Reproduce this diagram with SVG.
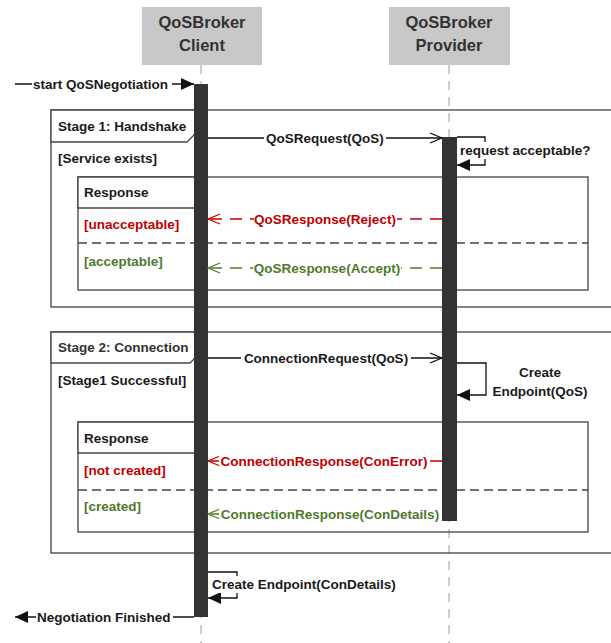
<svg xmlns="http://www.w3.org/2000/svg" width="611" height="643" viewBox="0 0 611 643">
<defs>
<style>
text{font-family:"Liberation Sans",Arial,sans-serif;font-weight:bold;font-size:13.5px;fill:#1a1a1a}
.hdr{font-size:16.5px;fill:#333;text-anchor:middle}
.red{fill:#c00000}
.grn{fill:#4f7a2e}
.mid{text-anchor:middle}
.life{stroke:#bdbdbd;stroke-width:1.5;stroke-dasharray:9,7;fill:none}
.frame{fill:none;stroke:#444;stroke-width:1.3}
.lbl{fill:#fff;stroke:#444;stroke-width:1.3}
.sep{stroke:#444;stroke-width:1.3;stroke-dasharray:9,5;fill:none}
.bar{fill:#333}
.msg{stroke:#111;stroke-width:1.3;fill:none}
.rmsg{stroke:#c00000;stroke-width:1.3;fill:none}
.gmsg{stroke:#4f7a2e;stroke-width:1.3;fill:none}
.bg{fill:#fff}
</style>
<marker id="open" markerWidth="14" markerHeight="12" refX="13" refY="6" orient="auto" markerUnits="userSpaceOnUse"><path d="M1,1 L13,6 L1,11" fill="none" stroke="#111" stroke-width="1.3"/></marker>
<marker id="openR" markerWidth="14" markerHeight="12" refX="13" refY="6" orient="auto" markerUnits="userSpaceOnUse"><path d="M1,1 L13,6 L1,11" fill="none" stroke="#c00000" stroke-width="1.3"/></marker>
<marker id="openG" markerWidth="14" markerHeight="12" refX="13" refY="6" orient="auto" markerUnits="userSpaceOnUse"><path d="M1,1 L13,6 L1,11" fill="none" stroke="#4f7a2e" stroke-width="1.3"/></marker>
<marker id="fill" markerWidth="14" markerHeight="12" refX="13" refY="6" orient="auto" markerUnits="userSpaceOnUse"><path d="M0,0 L13,6 L0,12 Z" fill="#111"/></marker>
</defs>
<rect width="611" height="643" fill="#fff"/>

<g id="client">
<rect x="142" y="7" width="120" height="58" fill="#c8c8c8"/>
<text class="hdr" x="202" y="28">QoSBroker</text>
<text class="hdr" x="202" y="51">Client</text>
<line class="life" x1="201" y1="65" x2="201" y2="643"/>
</g>
<g id="provider">
<rect x="389" y="7" width="121" height="58" fill="#c8c8c8"/>
<text class="hdr" x="449" y="28">QoSBroker</text>
<text class="hdr" x="449" y="51">Provider</text>
<line class="life" x1="449" y1="65" x2="449" y2="643"/>
</g>

<g id="stage1">
<rect class="frame" x="51" y="110" width="562" height="197"/>
<path class="lbl" d="M51,110 H196 V133 L187,142 H51 Z"/>
<text x="58" y="131">Stage 1: Handshake</text>
<text x="58" y="163">[Service exists]</text>
</g>
<g id="response1">
<rect class="frame" x="78" y="177" width="510" height="113"/>
<path class="lbl" d="M78,177 H204 V200 L195,208 H78 Z"/>
<text x="84" y="197">Response</text>
<text class="red" x="84" y="229">[unacceptable]</text>
<line class="sep" x1="78" y1="243" x2="588" y2="243"/>
<text class="grn" x="84" y="266">[acceptable]</text>
</g>

<g id="stage2">
<rect class="frame" x="51" y="332" width="562" height="221"/>
<path class="lbl" d="M51,332 H198 V355 L190,363 H51 Z"/>
<text x="58" y="352" style="fill:#333">Stage 2: Connection</text>
<text x="58" y="385">[Stage1 Successful]</text>
</g>
<g id="response2">
<rect class="frame" x="78" y="422" width="510" height="110"/>
<path class="lbl" d="M78,422 H205 V445 L196,453 H78 Z"/>
<text x="84" y="443">Response</text>
<text class="red" x="84" y="475">[not created]</text>
<line class="sep" x1="78" y1="490" x2="588" y2="490"/>
<text class="grn" x="84" y="511">[created]</text>
</g>

<g id="activations">
<rect class="bar" x="194" y="84" width="14" height="533"/>
<rect class="bar" x="442" y="137" width="15" height="384"/>
</g>

<g id="connectors">
<line class="msg" x1="15" y1="84" x2="194" y2="84" marker-end="url(#fill)"/>
<rect class="bg" x="32" y="76" width="140" height="16"/>
<text x="33" y="89">start QoSNegotiation</text>

<line class="msg" x1="208" y1="138" x2="442" y2="138" marker-end="url(#open)"/>
<rect class="bg" x="264" y="130" width="122" height="16"/>
<text class="mid" x="325" y="143">QoSRequest(QoS)</text>

<polyline class="msg" points="457,137 485,137 485,165 457,165" marker-end="url(#fill)"/>
<rect class="bg" x="459" y="142" width="134" height="17"/>
<text x="460" y="155">request acceptable?</text>

<line class="rmsg" x1="442" y1="219" x2="208" y2="219" stroke-dasharray="12,8" marker-end="url(#openR)"/>
<rect class="bg" x="254" y="211" width="143" height="16"/>
<text class="red mid" x="325" y="224">QoSResponse(Reject)</text>

<line class="gmsg" x1="442" y1="268" x2="208" y2="268" stroke-dasharray="12,8" marker-end="url(#openG)"/>
<rect class="bg" x="253" y="260" width="148" height="16"/>
<text class="grn mid" x="327" y="273">QoSResponse(Accept)</text>

<line class="msg" x1="208" y1="358" x2="442" y2="358" marker-end="url(#open)"/>
<rect class="bg" x="241" y="350" width="170" height="16"/>
<text class="mid" x="326" y="363">ConnectionRequest(QoS)</text>

<polyline class="msg" points="457,363 486,363 486,395 457,395" marker-end="url(#fill)"/>
<text class="mid" x="540" y="377">Create</text>
<text class="mid" x="540" y="396">Endpoint(QoS)</text>

<line class="rmsg" x1="442" y1="461" x2="208" y2="461" stroke-dasharray="12,8" marker-end="url(#openR)"/>
<rect class="bg" x="219" y="453" width="211" height="16"/>
<text class="red mid" x="324" y="466">ConnectionResponse(ConError)</text>

<line class="gmsg" x1="442" y1="514" x2="208" y2="514" stroke-dasharray="12,8" marker-end="url(#openG)"/>
<rect class="bg" x="219" y="506" width="223" height="16"/>
<text class="grn mid" x="330" y="519">ConnectionResponse(ConDetails)</text>

<polyline class="msg" points="208,572 237,572 237,598 208,598" marker-end="url(#fill)"/>
<rect class="bg" x="211" y="576" width="190" height="17"/>
<text x="212" y="589">Create Endpoint(ConDetails)</text>

<line class="msg" x1="194" y1="617" x2="15" y2="617" marker-end="url(#fill)"/>
<rect class="bg" x="36" y="609" width="137" height="16"/>
<text x="37" y="622">Negotiation Finished</text>
</g>
</svg>
